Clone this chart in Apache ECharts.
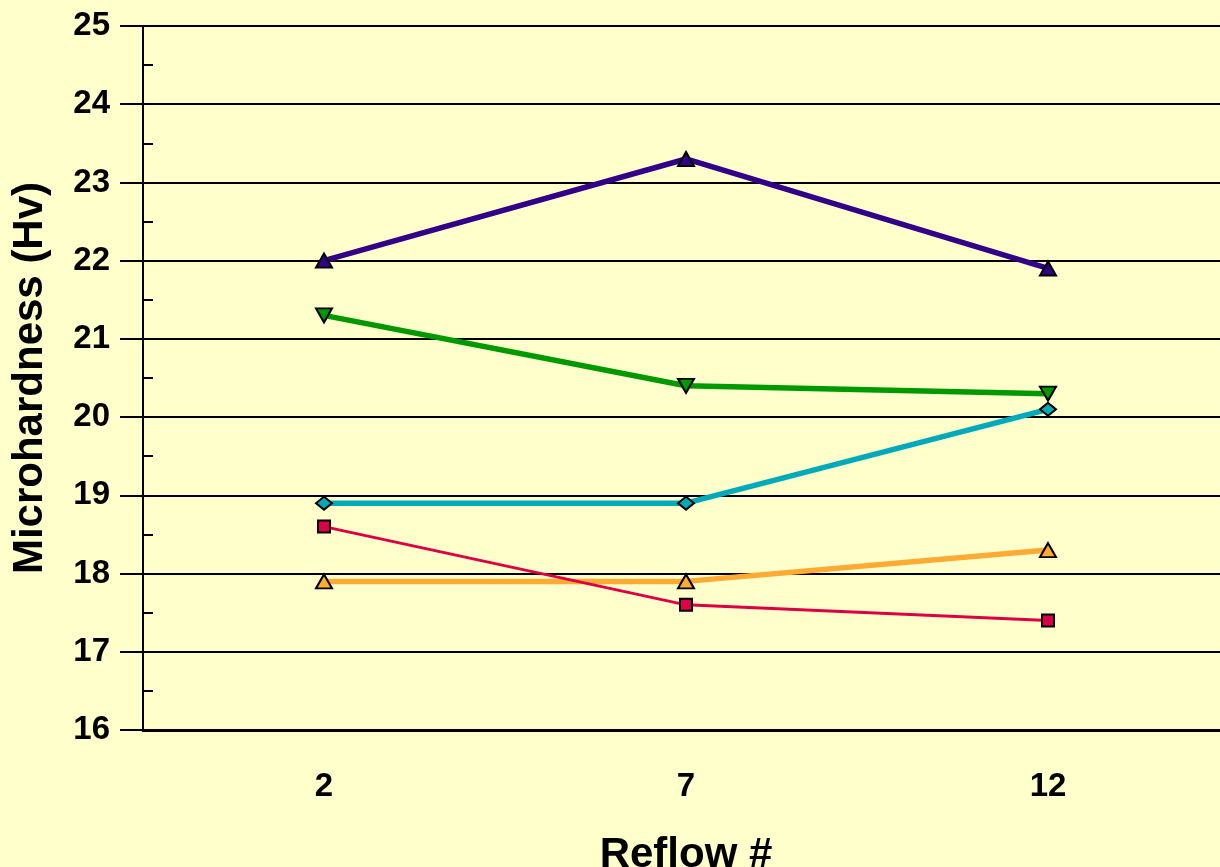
<!DOCTYPE html>
<html>
<head>
<meta charset="utf-8">
<script src="https://cdn.jsdelivr.net/npm/echarts@6/dist/echarts.min.js"></script>
<style>
html,body{margin:0;padding:0;background:#FFFFCC;}
#chart{width:1220px;height:867px;}
</style>
</head>
<body>
<div id="chart"></div>
<script>
var categories = ['2', '7', '12'];
var purpleValues = [22.0, 23.3, 21.9];
var greenValues = [21.3, 20.4, 20.3];
var cyanValues = [18.9, 18.9, 20.1];
var orangeValues = [17.9, 17.9, 18.3];
var redValues = [18.6, 17.6, 17.4];

var FONT = '"Liberation Sans", Arial, sans-serif';

function mk(data, color, width, symbol, size, rotate) {
  return {
    type: 'line',
    data: data,
    yAxisIndex: 0,
    symbol: symbol,
    symbolSize: size,
    symbolRotate: rotate || 0,
    lineStyle: { color: color, width: width },
    itemStyle: { color: color, borderColor: '#000', borderWidth: 2 },
    animation: false,
    z: 5
  };
}

var chart = echarts.init(document.getElementById('chart'));
chart.setOption({
  backgroundColor: '#FFFFCC',
  animation: false,
  grid: { left: 143, top: 26, right: -9, bottom: 137, containLabel: false, outerBoundsMode: 'none' },
  xAxis: {
    type: 'category',
    data: categories,
    boundaryGap: true,
    name: 'Reflow #',
    nameLocation: 'middle',
    nameGap: 104,
    nameTextStyle: { fontFamily: FONT, fontWeight: 'bold', fontSize: 42, color: '#000' },
    axisLine: { lineStyle: { color: '#000', width: 3 } },
    axisTick: { alignWithLabel: true, length: 21, lineStyle: { color: '#000', width: 2 } },
    axisLabel: { margin: 40, fontFamily: FONT, fontWeight: 'bold', fontSize: 33, color: '#000' },
    splitLine: { show: false }
  },
  yAxis: [{
    type: 'value',
    min: 16, max: 25, interval: 1,
    position: 'left',
    name: 'Microhardness (Hv)',
    nameLocation: 'middle',
    nameGap: 92,
    nameTextStyle: { fontFamily: FONT, fontWeight: 'bold', fontSize: 42, color: '#000' },
    axisLine: { show: true, lineStyle: { color: '#000', width: 2 } },
    axisTick: { show: true, length: 23, lineStyle: { color: '#000', width: 2 } },
    axisLabel: { margin: 33, fontFamily: FONT, fontWeight: 'bold', fontSize: 33, color: '#000' },
    splitLine: { show: true, lineStyle: { color: '#000', width: 2 } }
  }, {
    type: 'value',
    min: 16, max: 25, interval: 0.5,
    position: 'left',
    axisLine: { show: false },
    axisTick: { show: true, inside: true, length: 10, lineStyle: { color: '#000', width: 2 } },
    axisLabel: { show: false },
    splitLine: { show: false }
  }],
  series: [
    mk(orangeValues, '#FFAA33', 5.5, 'triangle', [16, 14]),
    mk(redValues, '#DD0044', 3, 'rect', [12, 12]),
    mk(cyanValues, '#00AABB', 5.5, 'diamond', [16, 13]),
    mk(greenValues, '#009900', 5.5, 'triangle', [16, 14], 180),
    mk(purpleValues, '#330088', 5.5, 'triangle', [16, 14])
  ]
});
</script>
</body>
</html>
